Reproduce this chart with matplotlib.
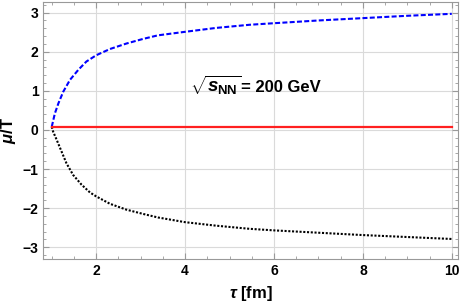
import numpy as np
import matplotlib.pyplot as plt
from matplotlib.ticker import MultipleLocator

plt.rcParams['font.family'] = ['Liberation Sans', 'DejaVu Sans']
plt.rcParams['mathtext.fontset'] = 'custom'
plt.rcParams['mathtext.rm'] = 'Liberation Sans:bold'
plt.rcParams['mathtext.it'] = 'Liberation Sans:bold:italic'
plt.rcParams['mathtext.bf'] = 'Liberation Sans:bold'

# values
tau_blue = [1.0, 1.07, 1.15, 1.26, 1.41, 1.60, 1.78, 2.0, 2.31, 2.68, 3.06, 3.39,
            4.0, 4.7, 5.45, 6.0, 7.0, 8.0, 9.0, 10.0]
mu_blue = [0.08, 0.42, 0.68, 0.98, 1.28, 1.54, 1.75, 1.91, 2.07, 2.21, 2.33, 2.42,
           2.51, 2.61, 2.69, 2.73, 2.80, 2.86, 2.92, 2.97]

tau_black = [1.0, 1.03, 1.11, 1.22, 1.33, 1.48, 1.67, 1.86, 2.0, 2.31, 2.68, 3.06,
             3.39, 4.0, 4.7, 5.45, 6.0, 7.0, 8.0, 9.0, 10.0]
mu_black = [0.08, -0.04, -0.25, -0.55, -0.85, -1.15, -1.40, -1.60, -1.70, -1.89, -2.04, -2.15,
            -2.24, -2.36, -2.45, -2.53, -2.57, -2.63, -2.69, -2.74, -2.79]

tau_red = [1.0, 10.0]
mu_red = [0.08, 0.08]

fig = plt.figure(figsize=(4.63, 3.06), dpi=100)
ax = fig.add_axes([0.0935, 0.1526, 0.8957, 0.8418])

ax.plot(tau_blue, mu_blue, color='#0000ff', lw=1.5, ls=(0, (2.4, 1.1)))
ax.plot(tau_black, mu_black, color='black', lw=1.5, ls=(0, (1, 0.8)))
ax.plot(tau_red, mu_red, color='#ff2020', lw=1.6)

ax.set_xlim(0.81, 10.14)
ax.set_ylim(-3.31, 3.28)
ax.xaxis.set_major_locator(MultipleLocator(2))
ax.xaxis.set_minor_locator(MultipleLocator(0.5))
ax.yaxis.set_major_locator(MultipleLocator(1))
ax.yaxis.set_minor_locator(MultipleLocator(0.2))
ax.grid(True, which='major', color='#dadada', lw=0.8)
ax.set_axisbelow(True)

ax.tick_params(which='both', direction='in', top=True, right=True,
               color='#999999', labelsize=10)
ax.tick_params(which='major', length=4, pad=3.5)
ax.tick_params(which='minor', length=2)
for lab in ax.get_xticklabels() + ax.get_yticklabels():
    lab.set_fontweight('bold')
for sp in ax.spines.values():
    sp.set_color('#999999')

ax.set_xlabel(r'$\mathit{\tau}$ [fm]', fontsize=12, fontweight='bold', labelpad=4)
ax.set_ylabel(r'$\mathit{\mu}$/T', fontsize=12, fontweight='bold')
ax.yaxis.set_label_coords(-0.062, 0.5)

ax.text(4.11, 0.97, r'$\sqrt{\mathit{s}_{\mathrm{NN}}}$', fontsize=13.5,
        fontweight='bold', va='baseline')
ax.text(5.25, 0.97, '= 200 GeV', fontsize=12, fontweight='bold', va='baseline')

fig.savefig('out.png', dpi=100)
